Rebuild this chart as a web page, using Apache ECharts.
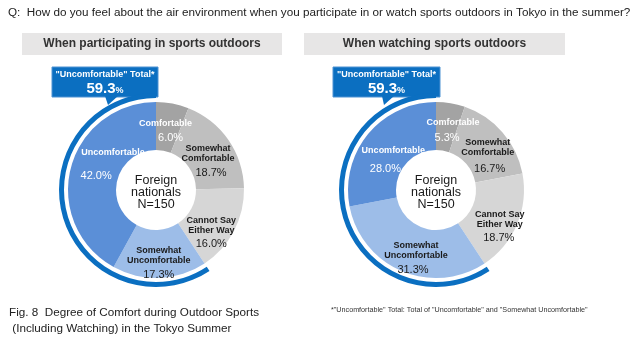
<!DOCTYPE html>
<html>
<head>
<meta charset="utf-8">
<style>
  html, body { margin: 0; padding: 0; background: #ffffff; }
  #chart { width: 640px; height: 348px; }
</style>
<script src="https://cdn.jsdelivr.net/npm/echarts@6/dist/echarts.min.js"></script>
</head>
<body>
<div id="chart"></div>
<script>
// Survey answers, clockwise from 12 o'clock
const categories = ['Comfortable', 'Somewhat\nComfortable', 'Cannot Say\nEither Way', 'Somewhat\nUncomfortable', 'Uncomfortable'];
const participating = [6.0, 18.7, 16.0, 17.3, 42.0];
const watching = [5.3, 16.7, 18.7, 31.3, 28.0];
// Answers summed into the "Uncomfortable" total
const uncomfortableIdx = [3, 4];
const sampleSize = 150;

const questionText = 'Q:  How do you feel about the air environment when you participate in or watch sports outdoors in Tokyo in the summer?';
const panelTitles = ['When participating in sports outdoors', 'When watching sports outdoors'];
const figCaption = ['Fig. 8  Degree of Comfort during Outdoor Sports', ' (Including Watching) in the Tokyo Summer'];
const footnote = '*"Uncomfortable" Total: Total of "Uncomfortable" and "Somewhat Uncomfortable"';
const calloutTitle = '"Uncomfortable" Total*';

const FONT = '"Liberation Sans", Arial, sans-serif';
const sliceColors = ['#a3a3a3', '#bfbfbf', '#d6d6d6', '#9dbde8', '#5b8fd7'];
const labelColors = ['#ffffff', '#1a1a1a', '#1a1a1a', '#1a1a1a', '#ffffff'];
const ringColor = '#0b6fc1';

// label nudges: dx/dy of the block, value line height, value horizontal shift
const tweaksLeft = [
  { dx: -3, dy: 9, vh: 20, vs: 5 },
  { dx: -3, dy: 11, vh: 18, vs: 3 },
  { dx: -4, dy: 13, vh: 18, vs: 0 },
  { dx: 0, dy: 8, vh: 18, vs: 0 },
  { dx: 22, dy: -2, vh: 38, vs: -17 }
];
const tweaksRight = [
  { dx: 6, dy: 9, vh: 20, vs: -6 },
  { dx: 1, dy: 13, vh: 24, vs: 2 },
  { dx: 2, dy: 12, vh: 18, vs: -1 },
  { dx: 6, dy: 8, vh: 18, vs: -3 },
  { dx: 9, dy: 17, vh: 28, vs: -8 }
];

function totalOf(values) {
  return uncomfortableIdx.reduce((s, i) => s + values[i], 0);
}

function donut(values, center, tweaks) {
  return {
    type: 'pie',
    center: center,
    radius: [40, 88],
    startAngle: 90,
    clockwise: true,
    silent: true,
    animation: false,
    avoidLabelOverlap: false,
    labelLine: { show: false },
    emphasis: { disabled: true },
    data: values.map((v, i) => {
      const t = tweaks[i];
      const pad = t.vs >= 0 ? [0, 0, 0, 2 * t.vs] : [0, -2 * t.vs, 0, 0];
      return {
        name: categories[i],
        value: v,
        itemStyle: { color: sliceColors[i] },
        label: {
          show: true,
          position: 'inside',
          align: 'center',
          verticalAlign: 'middle',
          formatter: () => categories[i].split('\n').map(s => '{n|' + s + '}').join('\n') + '\n{v|' + v.toFixed(1) + '%}',
          rich: {
            n: { fontFamily: FONT, fontSize: 9, fontWeight: 'bold', lineHeight: 10, color: labelColors[i], align: 'center' },
            v: { fontFamily: FONT, fontSize: 11, lineHeight: t.vh, color: labelColors[i], padding: pad, align: 'center' }
          }
        }
      };
    }),
    labelLayout: (p) => ({ dx: tweaks[p.dataIndex].dx, dy: tweaks[p.dataIndex].dy })
  };
}

function ring(values, center) {
  const total = totalOf(values);
  const rest = values.reduce((s, v) => s + v, 0) - total;
  return {
    type: 'pie',
    center: center,
    radius: [92, 97],
    startAngle: 90,
    clockwise: true,
    silent: true,
    animation: false,
    label: { show: false },
    labelLine: { show: false },
    emphasis: { disabled: true },
    data: [
      { name: 'rest', value: rest, itemStyle: { color: 'rgba(0,0,0,0)' } },
      { name: 'total', value: total, itemStyle: { color: ringColor } }
    ]
  };
}

function callout(values, x, y, w, h, tip) {
  const total = totalOf(values).toFixed(1);
  return [
    { type: 'rect', shape: { x: x, y: y, width: w, height: h }, style: { fill: ringColor, stroke: '#4f93d3', lineWidth: 1 } },
    { type: 'polygon', shape: { points: tip }, style: { fill: ringColor } },
    {
      type: 'text', x: x + w / 2, y: y + 8,
      style: { text: calloutTitle, fontFamily: FONT, fontSize: 9, fontWeight: 'bold', fill: '#ffffff', align: 'center', verticalAlign: 'middle' }
    },
    {
      type: 'text', x: x + w / 2, y: y + 22,
      style: {
        text: '{a|' + total + '}{b|%}', align: 'center', verticalAlign: 'middle',
        rich: {
          a: { fontFamily: FONT, fontSize: 15, fontWeight: 'bold', fill: '#ffffff', color: '#ffffff' },
          b: { fontFamily: FONT, fontSize: 9, fontWeight: 'bold', fill: '#ffffff', color: '#ffffff', padding: [4, 0, 0, 0] }
        }
      }
    }
  ];
}

function centerText(x, y) {
  return {
    type: 'text', x: x, y: y,
    style: { text: 'Foreign\nnationals\nN=' + sampleSize, fontFamily: FONT, fontSize: 12.5, lineHeight: 12, fill: '#1a1a1a', align: 'center', verticalAlign: 'middle' }
  };
}

function panelHeader(text, x, w) {
  return [
    { type: 'rect', shape: { x: x, y: 33, width: w, height: 22 }, style: { fill: '#e7e6e6' } },
    { type: 'text', x: x + w / 2, y: 44, style: { text: text, fontFamily: FONT, fontSize: 12, fontWeight: 'bold', fill: '#333333', align: 'center', verticalAlign: 'middle' } }
  ];
}

const leftCenter = [156, 190];
const rightCenter = [436, 190];

const chart = echarts.init(document.getElementById('chart'), null, { renderer: 'canvas' });
chart.setOption({
  backgroundColor: '#ffffff',
  animation: false,
  series: [
    donut(participating, leftCenter, tweaksLeft),
    ring(participating, leftCenter),
    donut(watching, rightCenter, tweaksRight),
    ring(watching, rightCenter)
  ],
  graphic: [
    { type: 'text', x: 8, y: 13, style: { text: questionText, fontFamily: FONT, fontSize: 11.7, fill: '#222222', verticalAlign: 'middle' } },
    ...panelHeader(panelTitles[0], 22, 260),
    ...panelHeader(panelTitles[1], 304, 261),
    centerText(leftCenter[0], 193),
    centerText(rightCenter[0], 193),
    ...callout(participating, 52, 67, 106, 30, [[105, 96], [118, 96], [108, 105]]),
    ...callout(watching, 333, 67, 107, 30, [[382, 96], [394, 96], [384, 105]]),
    { type: 'text', x: 9, y: 313, style: { text: figCaption[0], fontFamily: FONT, fontSize: 11.7, fill: '#222222', verticalAlign: 'middle' } },
    { type: 'text', x: 9, y: 329, style: { text: figCaption[1], fontFamily: FONT, fontSize: 11.7, fill: '#222222', verticalAlign: 'middle' } },
    { type: 'text', x: 331, y: 310, style: { text: footnote, fontFamily: FONT, fontSize: 7.2, fill: '#333333', verticalAlign: 'middle' } }
  ]
});
</script>
</body>
</html>
